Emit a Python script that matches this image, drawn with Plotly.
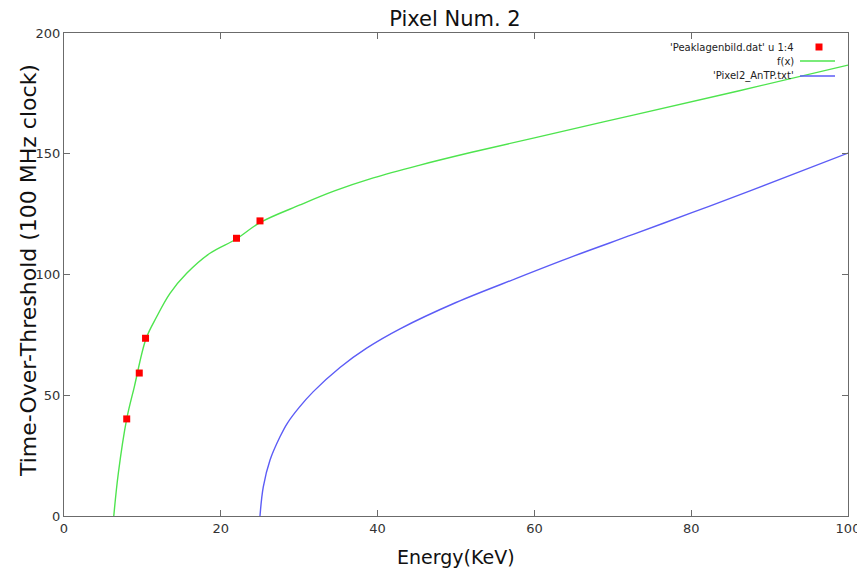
import plotly.graph_objects as go

# measured data points
pts_x = [8.0, 9.6, 10.4, 22.0, 25.0]
pts_y = [40.2, 59.2, 73.6, 115.0, 122.2]

# f(x) curve
fx_x = [6.35, 6.93, 8.0, 8.97, 10.46, 11.82, 13.52, 15.65, 18.62, 22.03, 25.0, 30.1, 34.5, 39.45, 45.4, 52.0, 60.0, 72.6, 86.0, 100.0]
fx_y = [0.0, 17.7, 40.2, 53.5, 73.4, 82.5, 92.2, 100.5, 108.8, 114.8, 121.5, 128.8, 134.6, 140.0, 145.3, 150.6, 156.6, 166.0, 176.0, 186.7]

# Pixel2_AnTP.txt curve
an_x = [25.0, 25.42, 26.28, 27.55, 28.5, 30.0, 31.8, 35.2, 38.6, 42.86, 50.0, 57.7, 65.0, 72.6, 80.0, 87.5, 100.0]
an_y = [0.0, 12.1, 23.2, 32.8, 38.5, 45.0, 51.5, 61.5, 69.5, 77.5, 88.4, 98.4, 107.6, 116.6, 125.5, 134.6, 150.3]

x_ticks = [0, 20, 40, 60, 80, 100]
y_ticks = [0, 50, 100, 150, 200]

legend_names = ["'Peaklagenbild.dat' u 1:4", "f(x)", "'Pixel2_AnTP.txt'"]

GREEN = "#4ee44e"
BLUE = "#5c5cf6"
RED = "#ff0000"
FRAME = "#6b6b6b"

# page body has an 8px margin: size the figure so the plot box lands at
# window pixels x 64..848, y 33..516
OX, OY = 8, 8
W, H = 857, 560
L, R, T, B = 56, 17, 25, 52
pw, ph = W - L - R, H - T - B


def px(xp):
    return (xp - OX - L) / pw


def py(yp):
    return 1 - (yp - OY - T) / ph


fig = go.Figure()
fig.add_trace(go.Scatter(x=fx_x, y=fx_y, mode="lines",
                         line=dict(color=GREEN, width=1.4, shape="spline", smoothing=1.0),
                         name=legend_names[1], showlegend=False))
fig.add_trace(go.Scatter(x=an_x, y=an_y, mode="lines",
                         line=dict(color=BLUE, width=1.4, shape="spline", smoothing=1.0),
                         name=legend_names[2], showlegend=False))
fig.add_trace(go.Scatter(x=pts_x, y=pts_y, mode="markers",
                         marker=dict(symbol="square", size=7, color=RED, line=dict(width=0)),
                         name=legend_names[0], showlegend=False))

# gnuplot-style key: text right-aligned, sample to the right
leg_font = dict(family="DejaVu Sans", size=10, color="#222222")
rows_y = [47, 61, 76]
for i, name in enumerate(legend_names):
    fig.add_annotation(x=px(796), y=py(rows_y[i]), xref="paper", yref="paper", text=name, showarrow=False,
                       xanchor="right", yanchor="middle", font=leg_font)
fig.add_shape(type="rect", xref="paper", yref="paper", x0=px(815.5), x1=px(822.5), y0=py(43.5), y1=py(50.5),
              fillcolor=RED, line=dict(width=0))
fig.add_shape(type="line", xref="paper", yref="paper", x0=px(800), x1=px(835), y0=py(61), y1=py(61),
              line=dict(color=GREEN, width=1.4))
fig.add_shape(type="line", xref="paper", yref="paper", x0=px(800), x1=px(835), y0=py(76), y1=py(76),
              line=dict(color=BLUE, width=1.4))

# axis titles
fig.add_annotation(x=px(28), y=py(271), xref="paper", yref="paper", text="Time-Over-Threshold (100 MHz clock)",
                   textangle=-90, showarrow=False, xanchor="center", yanchor="middle",
                   font=dict(family="DejaVu Sans", size=22, color="#111111"))
fig.add_annotation(x=px(456), y=py(557), xref="paper", yref="paper", text="Energy(KeV)",
                   showarrow=False, xanchor="center", yanchor="middle",
                   font=dict(family="DejaVu Sans", size=19, color="#111111"))

axis_common = dict(showgrid=False, zeroline=False, showline=True, linecolor=FRAME, linewidth=1.2,
                   mirror="allticks", ticks="inside", ticklen=6, tickcolor=FRAME, tickwidth=1,
                   automargin=False,
                   tickfont=dict(family="DejaVu Sans", size=13, color="#333333"))

fig.update_layout(
    width=W, height=H,
    margin=dict(l=L, r=R, t=T, b=B),
    paper_bgcolor="white", plot_bgcolor="white",
    title=dict(text="Pixel Num. 2", x=(455 - OX) / W, xanchor="center", y=1 - (19 - OY) / H, yanchor="middle",
               font=dict(family="DejaVu Sans", size=21, color="#111111")),
    xaxis=dict(range=[0, 100], tickvals=x_ticks, ticktext=[str(v) for v in x_ticks], **axis_common),
    yaxis=dict(range=[0, 200], tickvals=y_ticks, ticktext=[str(v) for v in y_ticks], **axis_common),
    showlegend=False,
)

fig.write_html("out.html")
